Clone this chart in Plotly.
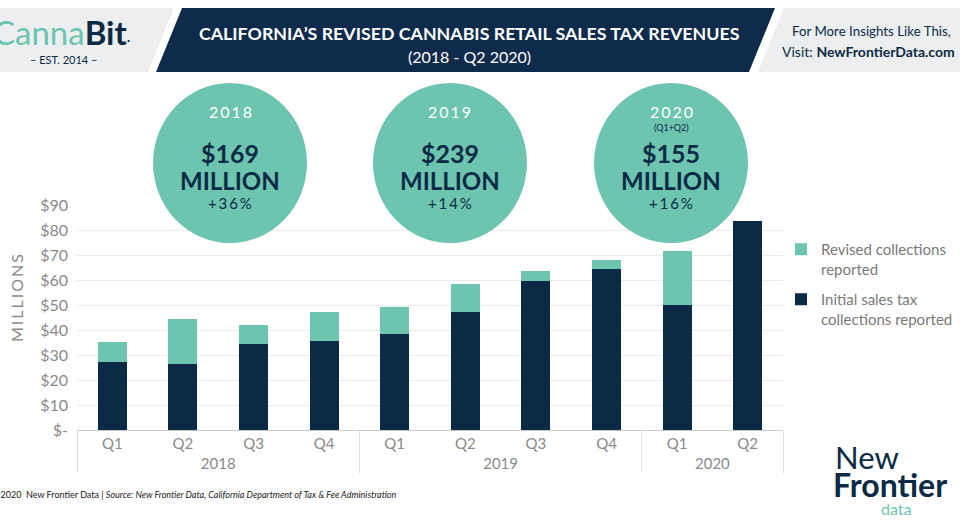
import plotly.graph_objects as go

# ---------------- data ----------------
years = ["2018", "2018", "2018", "2018", "2019", "2019", "2019", "2019", "2020", "2020"]
quarters = ["Q1", "Q2", "Q3", "Q4", "Q1", "Q2", "Q3", "Q4", "Q1", "Q2"]
initial_collections = [27.3, 26.3, 34.4, 35.7, 38.5, 47.2, 59.6, 64.5, 50.1, 83.5]
revised_collections = [8.0, 18.1, 7.5, 11.6, 10.6, 11.2, 3.9, 3.4, 21.6, 0.0]

y_tickvals = [0, 10, 20, 30, 40, 50, 60, 70, 80, 90]
y_ticktext = ["$-", "$10", "$20", "$30", "$40", "$50", "$60", "$70", "$80", "$90"]

circle_years = ["2018", "2019", "2020"]
circle_notes = ["", "", "(Q1+Q2)"]
circle_amounts = ["$169", "$239", "$155"]
circle_growth = ["+36%", "+14%", "+16%"]

# ---------------- style ----------------
NAVY = "#0b2a45"
TEAL = "#6dc5b0"
GRAY = "#8a8a8a"
FONT = "Lato"

W, H = 960, 521
L, R, T, B = 77, 783, 205, 430


def px(x):
    return (x - L) / (R - L)


def py(y):
    return (B - y) / (B - T)


def note(x, y, text, size, color, xanchor="center", **kw):
    return dict(x=px(x), y=py(y), xref="paper", yref="paper", showarrow=False,
                xanchor=xanchor, yanchor="middle", text=text,
                font=dict(family=FONT, size=size, color=color), **kw)


fig = go.Figure()
fig.add_trace(go.Bar(
    x=[years, quarters], y=initial_collections,
    name="Initial sales tax<br>collections reported", legendgroup="initial", legendrank=2,
    marker=dict(color=NAVY, line=dict(width=0)),
))
fig.add_trace(go.Bar(
    x=[years, quarters], y=revised_collections,
    name="Revised collections<br>reported", legendgroup="revised", legendrank=1,
    marker=dict(color=TEAL, line=dict(width=0)),
))

shapes = []
annotations = []


def poly(points, color):
    path = "M " + " L ".join(f"{px(x):.5f},{py(y):.5f}" for x, y in points) + " Z"
    return dict(type="path", xref="paper", yref="paper", path=path,
                fillcolor=color, line=dict(width=0), layer="above")


# header panels
shapes.append(poly([(0, 8), (174, 8), (148, 72), (0, 72)], "#eceef0"))
shapes.append(poly([(182, 8), (775, 8), (749, 72), (156, 72)], "#0e2b4b"))
shapes.append(poly([(784, 8), (960, 8), (960, 72), (758, 72)], "#eceef0"))

# summary circles
circle_cx = [230, 450, 671]
for i, cx in enumerate(circle_cx):
    shapes.append(dict(type="circle", xref="paper", yref="paper",
                       x0=px(cx - 77), x1=px(cx + 77), y0=py(243), y1=py(83),
                       fillcolor=TEAL, line=dict(width=0), layer="above"))
    annotations.append(note(cx, 111, "\u2009".join(circle_years[i]), 16, "white"))
    if circle_notes[i]:
        annotations.append(note(cx, 127, circle_notes[i], 9, NAVY))
    annotations.append(note(cx, 153, "<b>" + circle_amounts[i] + "</b>", 25, NAVY))
    annotations.append(note(cx, 180, "<b>MILLION</b>", 24, NAVY))
    annotations.append(note(cx, 203, "\u2009".join(circle_growth[i]), 15, NAVY))

# header texts
annotations.append(note(469, 33, "<b>CALIFORNIA\u2019S REVISED CANNABIS RETAIL SALES TAX REVENUES</b>",
                        17.8, "white"))
annotations.append(note(469, 56, "(2018 - Q2 2020)", 16, "white"))
annotations.append(note(790, 31, "For More Insights Like This,", 13.3, NAVY, xanchor="left"))
annotations.append(note(780, 51, "Visit: <b>NewFrontierData.com</b>", 14, NAVY, xanchor="left"))

# CannaBit logo
annotations.append(note(-9, 32,
                        "<span style='color:#6dc5b0'>Canna</span><b>Bit</b><span style='font-size:14px'>\u00b7</span>",
                        33, NAVY, xanchor="left"))
annotations.append(note(63, 59, "\u2013 EST. 2014 \u2013", 11, NAVY))

# y title
annotations.append(note(16, 298, "\u2009".join("MILLIONS"), 16, GRAY, textangle=-90))

# footer
annotations.append(note(-9, 494,
                        "\u00a92020  New Frontier Data | <i>Source: New Frontier Data, California Department of Tax &amp; Fee Administration</i>",
                        9, "#222222", xanchor="left"))

# New Frontier logo
annotations.append(note(833, 457, "New", 31, NAVY, xanchor="left"))
annotations.append(note(831, 484, "<b>Frontier</b>", 32, NAVY, xanchor="left"))
annotations.append(note(879, 508, "data", 16, TEAL, xanchor="left"))

fig.update_layout(
    width=W, height=H,
    margin=dict(l=L, r=W - R, t=T, b=H - B, pad=0, autoexpand=False),
    paper_bgcolor="white", plot_bgcolor="white",
    barmode="stack", bargap=0.59,
    font=dict(family=FONT, color=GRAY),
    shapes=shapes, annotations=annotations,
    legend=dict(x=px(781), y=py(233), xanchor="left", yanchor="top",
                traceorder="grouped", valign="top",
                font=dict(family=FONT, size=15, color="#7a7a7a"),
                bgcolor="rgba(0,0,0,0)", tracegroupgap=8),
    showlegend=True,
)
fig.update_xaxes(
    type="multicategory", showdividers=True, dividercolor="#dddddd", dividerwidth=1,
    showline=True, linecolor="#cccccc", linewidth=1, automargin=False,
    tickfont=dict(family=FONT, size=15, color=GRAY), showgrid=False,
)
fig.update_yaxes(
    range=[0, 90], tickvals=y_tickvals, ticktext=y_ticktext, automargin=False,
    showgrid=True, gridcolor="#ececec", gridwidth=1, zeroline=False,
    tickfont=dict(family=FONT, size=16, color=GRAY), ticklabelstandoff=8,
)

fig.write_html("out.html", config={"displayModeBar": False},
               post_script="document.body.style.margin='0';")
